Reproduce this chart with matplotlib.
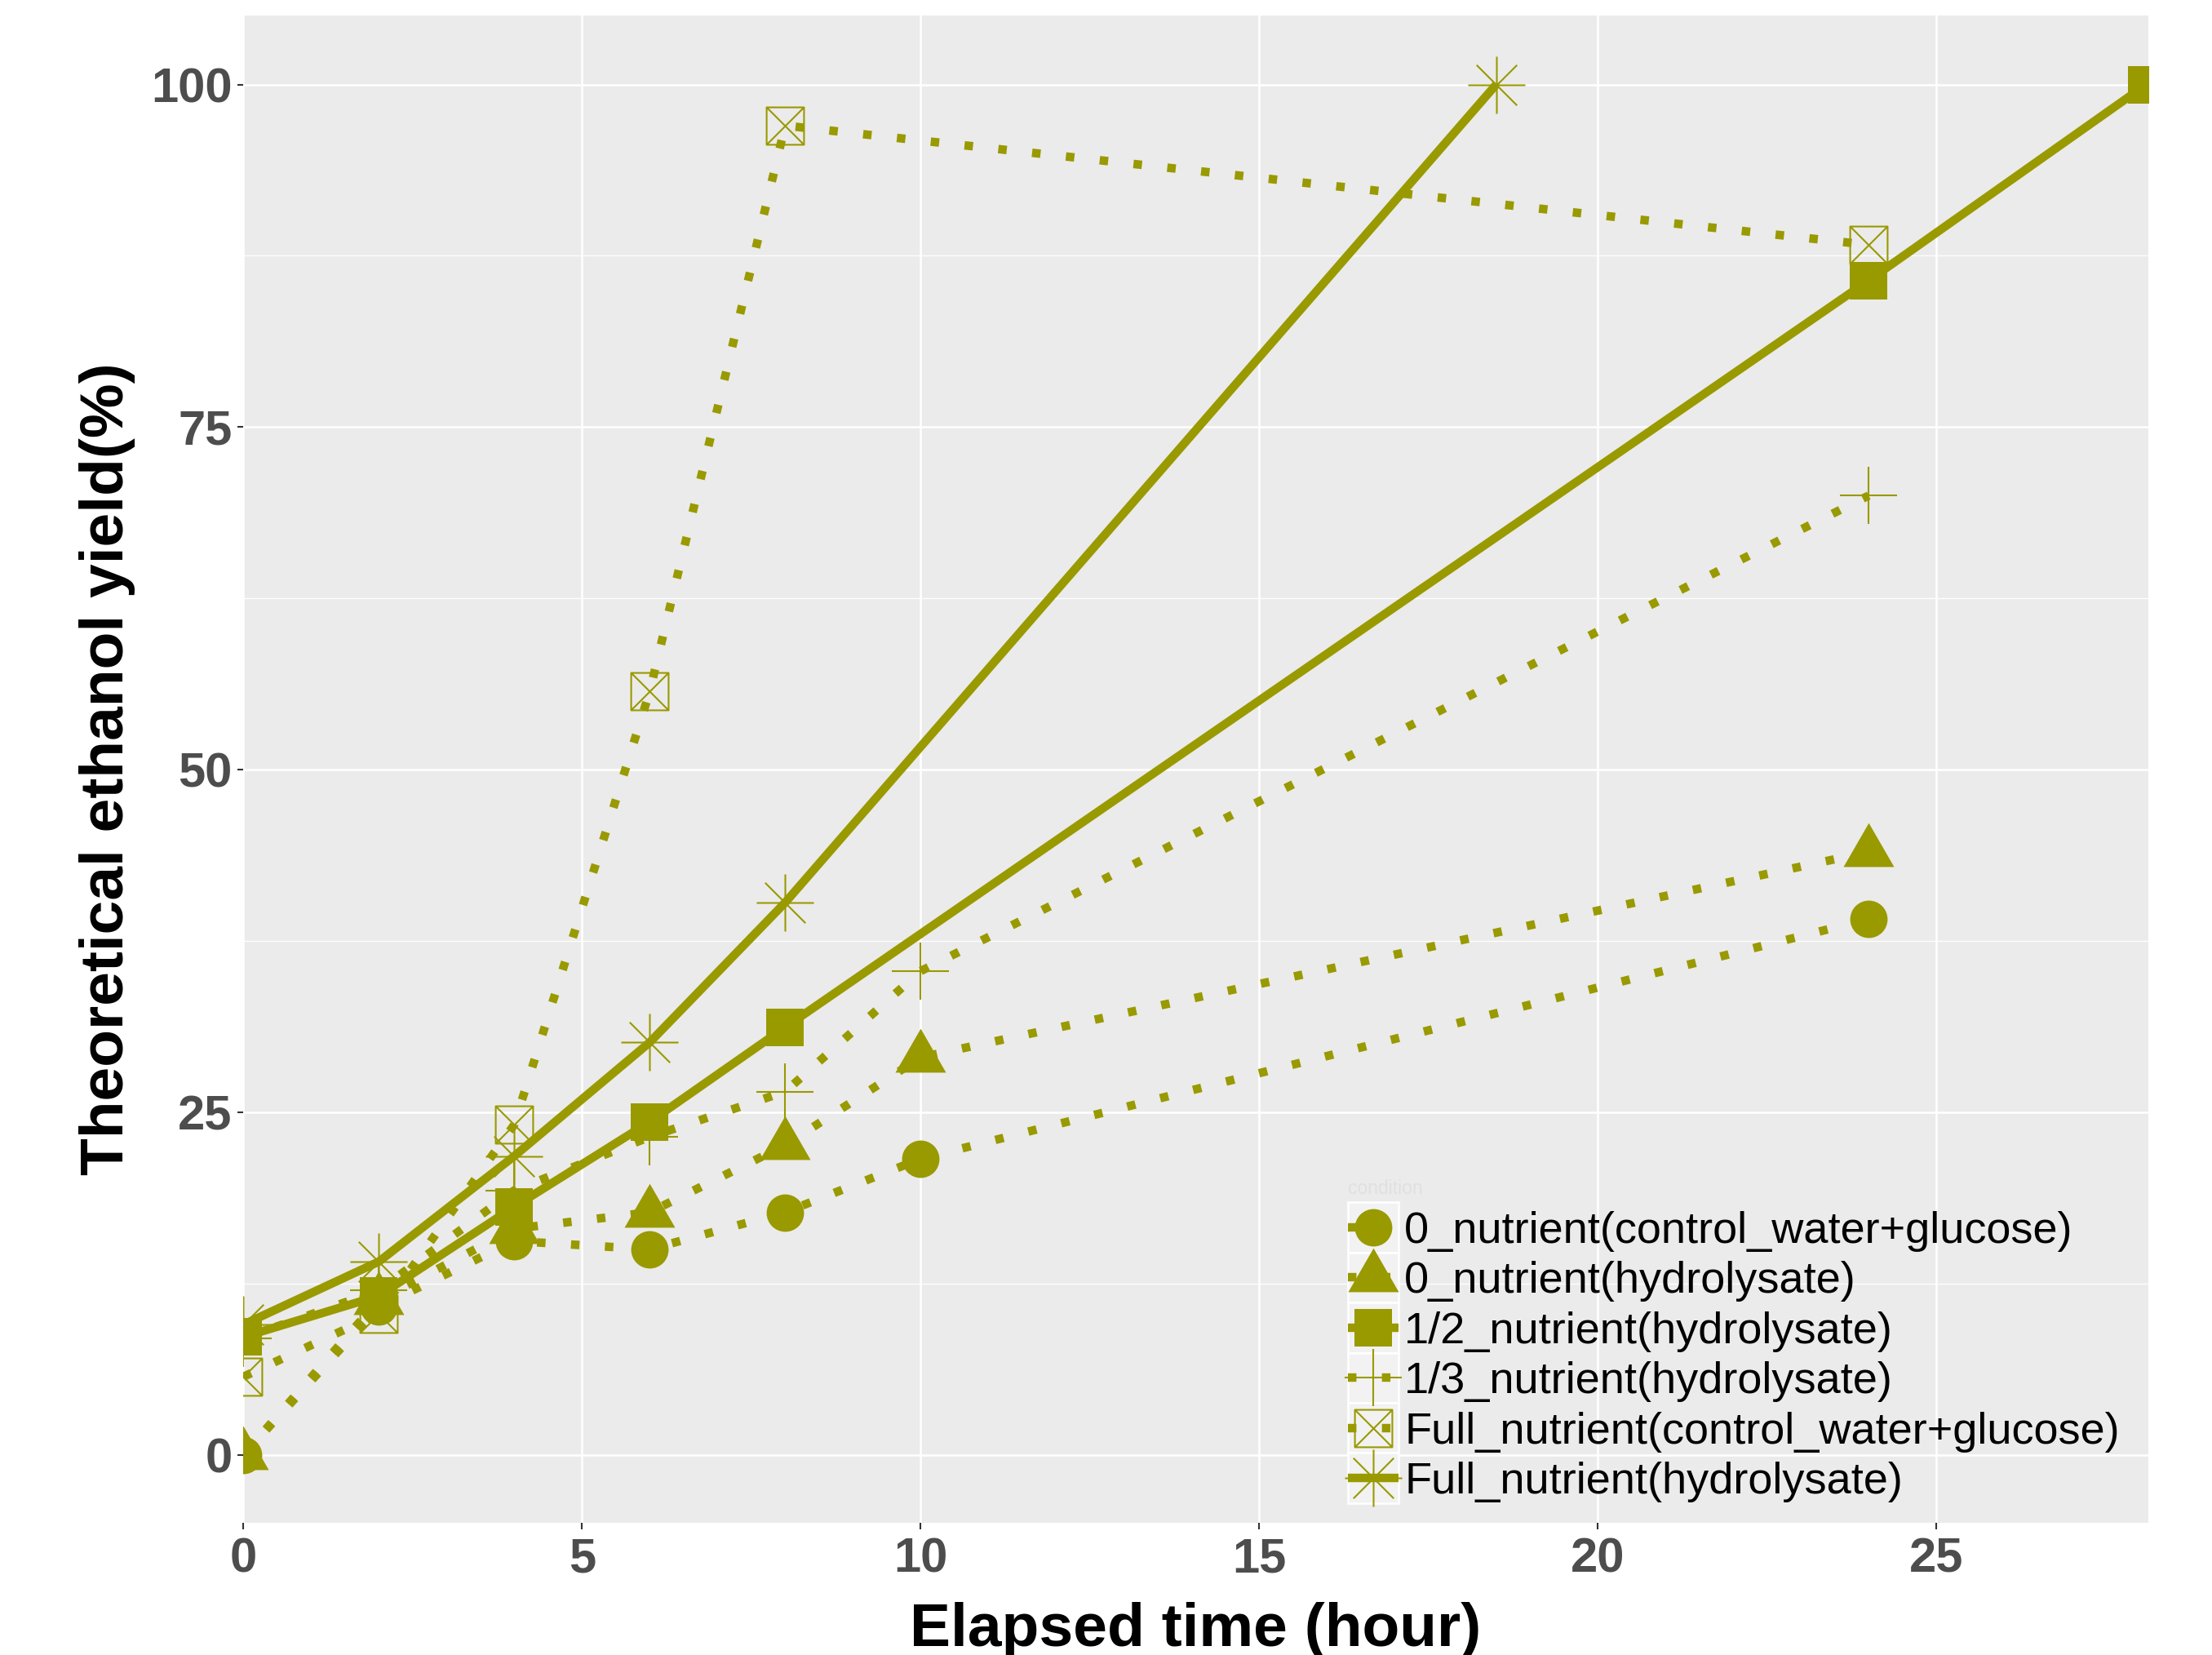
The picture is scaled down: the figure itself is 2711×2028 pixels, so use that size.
import matplotlib
matplotlib.use("Agg")
import matplotlib.pyplot as plt
from matplotlib.path import Path
from matplotlib.lines import Line2D
from matplotlib.patches import Rectangle

W, H, DPI = 2711, 2028, 300

# measured values
t_long = [0, 2, 4, 6, 8, 10, 24]
t_half = [0, 2, 4, 6, 8, 24, 28.1]
t_full_ctrl = [0, 2, 4, 6, 8, 24]
t_full_hydro = [0, 2, 4, 6, 8, 18.5]

ctrl0 = [0, 10.8, 15.6, 15.0, 17.7, 21.6, 39.1]
hydro0 = [0, 11.3, 16.5, 17.7, 22.6, 29.0, 44.0]
half = [8.6, 11.6, 18.1, 24.3, 31.2, 85.7, 100]
third = [8.5, 12.0, 19.3, 23.2, 26.5, 35.3, 70.0]
full_ctrl = [5.7, 10.3, 24.1, 55.7, 97.0, 88.3]
full_hydro = [9.5, 14.1, 21.8, 30.1, 40.3, 100]

labels = ["0_nutrient(control_water+glucose)",
          "0_nutrient(hydrolysate)",
          "1/2_nutrient(hydrolysate)",
          "1/3_nutrient(hydrolysate)",
          "Full_nutrient(control_water+glucose)",
          "Full_nutrient(hydrolysate)"]

x_ticks = [0, 5, 10, 15, 20, 25]
y_ticks = [0, 25, 50, 75, 100]

col = "#999900"
FONT = "Liberation Sans"

# R shapes 16, 17, 15, 3, 7, 8
tri = Path([(-1, -0.577), (1, -0.577), (0, 1.155), (-1, -0.577)],
           [Path.MOVETO, Path.LINETO, Path.LINETO, Path.CLOSEPOLY])
boxx = Path([(-1, -1), (1, -1), (1, 1), (-1, 1), (-1, -1),
             (-1, -1), (1, 1), (-1, 1), (1, -1)],
            [Path.MOVETO, Path.LINETO, Path.LINETO, Path.LINETO, Path.CLOSEPOLY,
             Path.MOVETO, Path.LINETO, Path.MOVETO, Path.LINETO])
d = 0.7071
aster = Path([(-1, 0), (1, 0), (0, -1), (0, 1), (-d, -d), (d, d), (-d, d), (d, -d)],
             [Path.MOVETO, Path.LINETO] * 4)

series = [
    (t_long, ctrl0, "dot", dict(marker="o", ms=11, mfc=col, mec=col, mew=0)),
    (t_long, hydro0, "dot", dict(marker=tri, ms=17.2, mfc=col, mec=col, mew=0)),
    (t_half, half, "solid", dict(marker="s", ms=11, mfc=col, mec=col, mew=0)),
    (t_long, third, "dot", dict(marker="+", ms=16.8, mec=col, mew=0.5)),
    (t_full_ctrl, full_ctrl, "dot", dict(marker=boxx, ms=11, mfc="none", mec=col, mew=0.5)),
    (t_full_hydro, full_hydro, "solid", dict(marker=aster, ms=16.8, mfc="none", mec=col, mew=0.5)),
]

LW = 2.5


def line_kw(style):
    if style == "dot":
        return dict(color=col, lw=LW, linestyle=(0, (1, 3)), dash_capstyle="butt")
    return dict(color=col, lw=LW, linestyle="-", solid_capstyle="butt")


fig = plt.figure(figsize=(W / DPI, H / DPI), dpi=DPI)
ax = fig.add_axes([298.3 / W, 1 - 1866 / H, (2633 - 298.3) / W, (1866 - 18.75) / H])
ax.set_facecolor("#EBEBEB")
for s in ax.spines.values():
    s.set_visible(False)

for xs, ys, style, mk in series:
    ax.plot(xs, ys, **line_kw(style), zorder=2)
for xs, ys, style, mk in series:
    ax.plot(xs, ys, linestyle="none", zorder=3, **mk)

ax.set_xlim(0, 28.13)
ax.set_ylim(-4.96, 105.05)
ax.set_xticks(x_ticks)
ax.set_yticks(y_ticks)
ax.set_yticks([12.5, 37.5, 62.5, 87.5], minor=True)
ax.grid(which="major", color="white", lw=0.6)
ax.grid(which="minor", axis="y", color="white", lw=0.3)
ax.set_axisbelow(True)
ax.tick_params(which="major", length=1.8, width=0.5, color="#333333",
               labelsize=14.3, labelcolor="#4D4D4D")
ax.tick_params(axis="x", pad=2.4)
ax.tick_params(axis="y", pad=1.5)
ax.tick_params(which="minor", length=0)
for lab in ax.get_xticklabels() + ax.get_yticklabels():
    lab.set_fontfamily(FONT)
    lab.set_fontweight("bold")

fig.text(1465 / W, 1 - 2017 / H, "Elapsed time (hour)", ha="center", va="baseline",
         fontsize=18, fontweight="bold", family=FONT, color="black")
fig.text(132 / W, 1 - 942 / H, "Theoretical ethanol yield(%)", ha="center", va="center",
         rotation=90, fontsize=18, fontweight="bold", family=FONT, color="black")


# legend drawn by hand in pixel positions
def fx(px):
    return px / W


def fy(py):
    return 1 - py / H


fig.text(fx(1652), fy(1463), "condition", fontsize=5.5, family=FONT,
         color="#E0E0E0", va="baseline")
row_h = 61.4
for i, (xs, ys, style, mk) in enumerate(series):
    base = 1523 + i * row_h
    cy = base - 19
    fig.patches.append(Rectangle((fx(1652), fy(cy + row_h / 2)), 62 / W, row_h / H,
                                 transform=fig.transFigure, facecolor="#F2F2F2",
                                 edgecolor="white", lw=0.6, zorder=1))
    fig.lines.append(Line2D([fx(1652), fx(1714)], [fy(cy), fy(cy)],
                            transform=fig.transFigure, zorder=2, **line_kw(style)))
    fig.lines.append(Line2D([fx(1683)], [fy(cy)], transform=fig.transFigure,
                            linestyle="none", zorder=3, **mk))
    fig.text(fx(1721), fy(base), labels[i], fontsize=13, family=FONT,
             color="black", va="baseline", ha="left")

fig.savefig("out.png", dpi=DPI, facecolor="white")
